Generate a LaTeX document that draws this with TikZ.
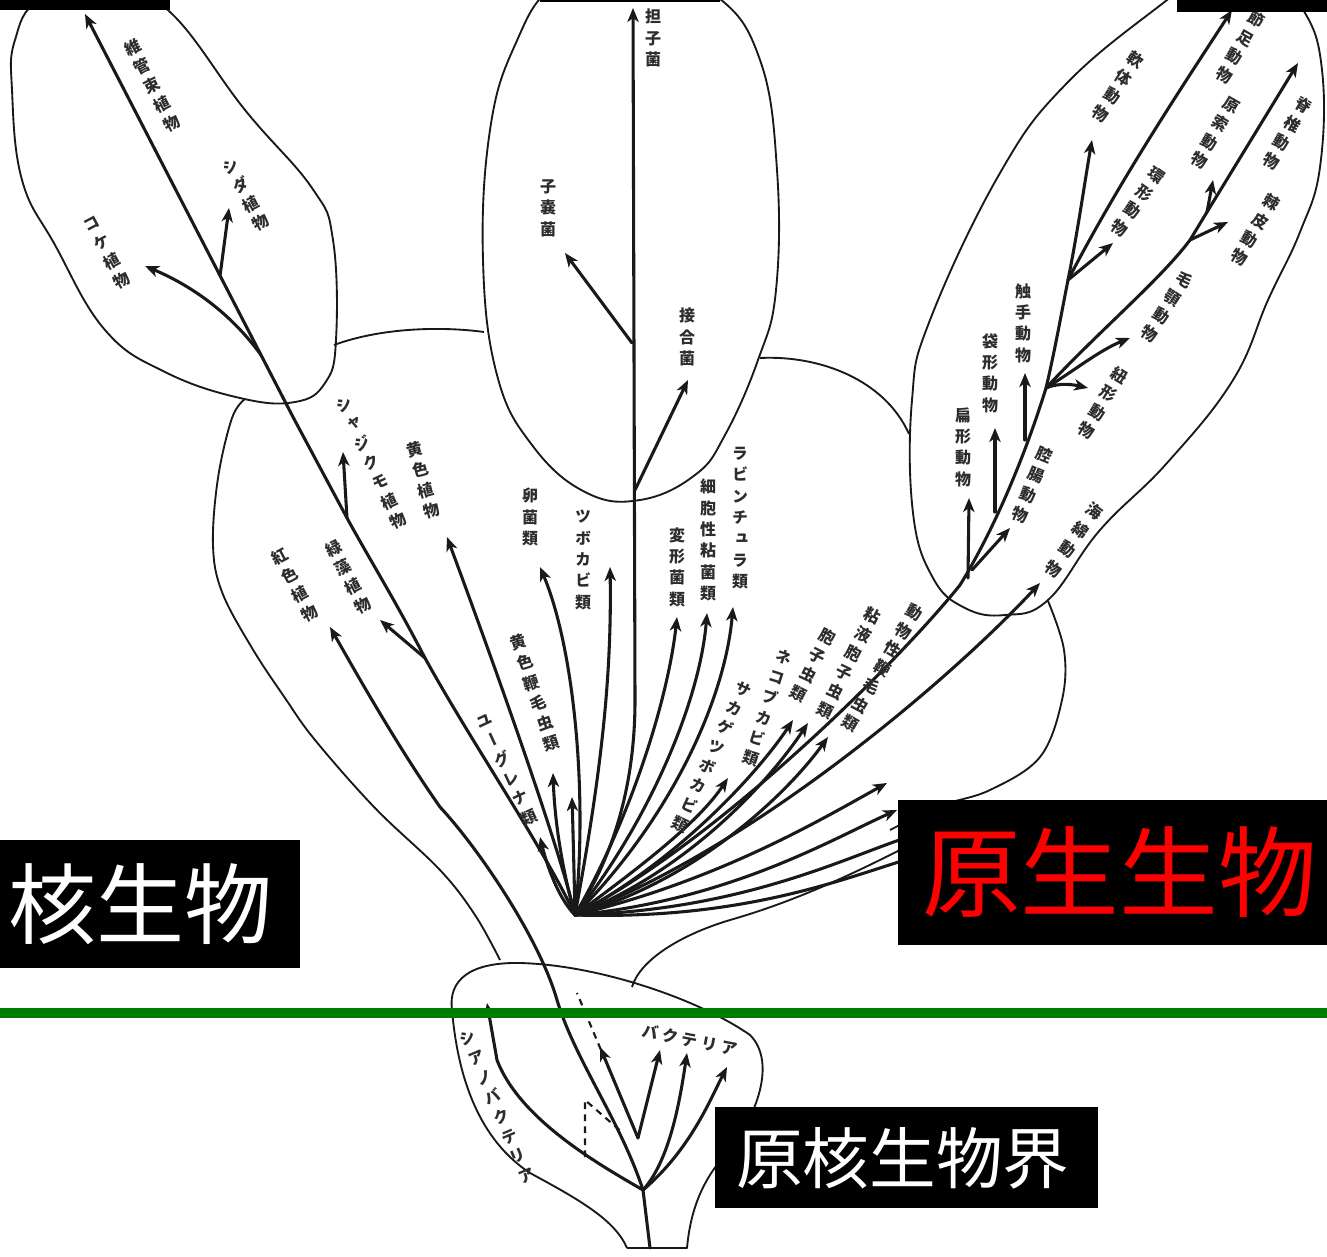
\documentclass[tikz,border=0pt]{standalone}
\usepackage{fontspec}
\newfontfamily\jp{Noto Sans CJK JP}
\newfontfamily\jpv[RawFeature=+vert]{Noto Sans CJK JP}
\usetikzlibrary{arrows.meta}
\definecolor{lgreen}{RGB}{0,125,0}
\definecolor{ink}{RGB}{25,25,25}
\definecolor{tink}{RGB}{45,45,45}
\begin{document}
\begin{tikzpicture}[x=0.75pt,y=-0.75pt,
  outl/.style={draw=ink, line width=1.4pt, line join=round},
  stem/.style={draw=ink, line width=2.3pt, line cap=round},
  arr/.style={stem, -{Stealth[length=10.5pt,width=8.5pt,inset=3pt]}},
  dsh/.style={draw=ink, line width=1.6pt, dash pattern=on 5pt off 4pt},
  vl/.style={font=\jpv\bfseries\fontsize{12}{16}\selectfont, align=center, inner sep=0pt, text=tink},
  hl/.style={font=\jp\bfseries\fontsize{12}{15}\selectfont, inner sep=0pt, text=tink},
]
\useasboundingbox (0,0) rectangle (1327,1256);
\fill[white] (0,0) rectangle (1327,1256);
\begin{scope}
\clip (0,0) rectangle (1327,1256);
% ---------- outlines ----------
% plants
\draw[outl] plot[smooth cycle, tension=0.7] coordinates {(12,90) (22,180) (55,245) (105,330) (165,372) (240,398) (295,402) (325,383) (336,340) (333,240) (312,188) (245,110) (170,12) (110,-15) (40,0) (15,40)};
% fungi
\draw[outl] plot[smooth cycle, tension=0.7] coordinates {(630,-40) (715,-5) (760,60) (777,170) (776,290) (758,360) (725,435) (695,475) (640,500) (585,492) (532,445) (497,375) (483,260) (490,130) (515,45) (555,-15)};
% animals
\draw[outl] plot[smooth cycle, tension=0.7] coordinates {(1167,0) (1067,83) (1000,173) (930,320) (912,400) (913,513) (933,578) (965,608) (1005,615) (1048,600) (1100,530) (1167,463) (1233,380) (1268,300) (1300,232) (1320,167) (1322,70) (1302,8) (1255,-40) (1210,-30)};
% protist blob
\draw[outl] plot[smooth, tension=0.6] coordinates {(245,399) (232,418) (218,478) (213,545) (222,592) (252,648) (285,698) (315,740) (375,808) (440,870) (475,915) (500,960)};
\draw[outl] (334,345) .. controls (380,328) and (440,326) .. (484,332);
\draw[outl] (760,358) .. controls (820,355) and (885,380) .. (909,434);
\draw[outl] plot[smooth, tension=0.6] coordinates {(1048,601) (1064,650) (1062,700) (1040,757) (990,790) (940,806) (890,830)};
\draw[outl] (632,987) .. controls (640,960) and (680,935) .. (730,920) .. controls (800,900) and (860,870) .. (900,850);
% bacteria pot
\draw[outl] (627,1248) -- (687,1248) .. controls (690,1215) and (700,1180) .. (730,1150) .. controls (760,1110) and (775,1060) .. (750,1035) .. controls (700,1000) and (600,965) .. (520,963) .. controls (470,962) and (448,980) .. (452,1010) .. controls (458,1080) and (480,1140) .. (530,1173) .. controls (580,1200) and (615,1220) .. (627,1248);
% ---------- coordinates ----------
\coordinate (F) at (575,915);
\coordinate (base) at (650,1248);
\coordinate (bk) at (643,1190);
\coordinate (p1) at (261,355);
\coordinate (p2) at (220,276);
\coordinate (p3) at (347,518);
\coordinate (p4) at (425,658);
\coordinate (g1) at (632,343);
\coordinate (g2) at (635,490);
\coordinate (s1) at (960,585);
\coordinate (s2) at (1046,388);
\coordinate (s3) at (1068,280);
\coordinate (v1) at (1190,240);
\coordinate (v2) at (1207,212);
\coordinate (tPlant) at (85,14);
\coordinate (tShida) at (229,208);
\coordinate (tKoke) at (145,266);
\coordinate (tShaji) at (343,452);
\coordinate (tRyoku) at (380,620);
\coordinate (tKou) at (330,627);
\coordinate (tOu) at (447,537);
\coordinate (tTan) at (633,8);
\coordinate (tShino) at (565,253);
\coordinate (tSetsu) at (688,380);
% ---------- stems ----------
\draw[arr] (base) -- (bk) .. controls (620,1120) and (575,1060) .. (557,1000) .. controls (540,940) and (480,850) .. (440,807) .. controls (400,750) and (360,680) .. (tKou);
\draw[arr] (F) .. controls (545,850) and (470,740) .. (p4) .. controls (395,600) and (370,560) .. (p3) -- (293,417) -- (tPlant);
\draw[arr] (p2) -- (tShida);
\draw[arr] (p1) .. controls (230,312) and (190,285) .. (tKoke);
\draw[arr] (p3) -- (tShaji);
\draw[arr] (p4) -- (tRyoku);
\draw[arr] (F) .. controls (560,850) and (500,680) .. (tOu);
\draw[arr] (F) .. controls (605,870) and (635,800) .. (635,700) -- (tTan);
\draw[arr] (g1) -- (tShino);
\draw[arr] (g2) -- (tSetsu);
\draw[arr] (F) .. controls (588,800) and (575,650) .. (540,567);
\draw[arr] (F) .. controls (600,780) and (612,680) .. (610,567);
\draw[arr] (F) .. controls (630,820) and (668,700) .. (677,617);
\draw[arr] (F) .. controls (650,820) and (700,700) .. (707,613);
\draw[arr] (F) .. controls (670,820) and (725,700) .. (733,607);
\draw[arr] (F) .. controls (565,880) and (555,830) .. (553,773);
\draw[arr] (F) .. controls (574,870) and (573,830) .. (572,797);
\draw[arr] (F) .. controls (560,900) and (548,870) .. (540,837);
\draw[arr] (F) .. controls (650,860) and (700,820) .. (728,778);
\draw[arr] (F) .. controls (680,860) and (760,770) .. (793,720);
\draw[arr] (F) .. controls (690,870) and (770,780) .. (808,723);
\draw[arr] (F) .. controls (700,880) and (790,790) .. (828,737);
\draw[arr] (F) .. controls (720,880) and (820,820) .. (887,783);
\draw[arr] (F) .. controls (730,900) and (830,840) .. (897,810);
\draw[stem] (F) .. controls (740,910) and (840,860) .. (905,838);
\draw[stem] (F) .. controls (740,920) and (840,880) .. (905,860);
\draw[arr] (F) .. controls (750,850) and (950,680) .. (1040,583);
\draw[arr] (F) .. controls (720,840) and (900,660) .. (s1) .. controls (1000,520) and (1030,440) .. (s2) .. controls (1055,350) and (1062,310) .. (s3) .. controls (1120,180) and (1180,90) .. (1232,10);
\draw[arr] (968,578) -- (969,498);
\draw[arr] (972,570) -- (1010,528);
\draw[arr] (995,512) -- (995,428);
\draw[arr] (1025,440) -- (1025,373);
\draw[arr] (s2) .. controls (1060,382) and (1075,385) .. (1088,388);
\draw[arr] (s2) .. controls (1075,370) and (1100,350) .. (1130,338);
\draw[arr] (s2) .. controls (1100,330) and (1160,280) .. (v1) -- (v2) -- (1298,63);
\draw[arr] (v2) -- (1213,180);
\draw[arr] (v1) -- (1228,222);
\draw[arr] (s3) .. controls (1078,230) and (1085,180) .. (1092,140);
\draw[arr] (s3) -- (1113,243);
% bacteria
\draw[arr] (bk) .. controls (600,1165) and (520,1120) .. (497,1060) -- (487,1003);
\coordinate (bn) at (638,1138);
\draw[arr] (bn) -- (600,1047);
\draw[arr] (bn) -- (660,1050);
\draw[dsh] (bn) -- (577,993);
\draw[arr] (bk) .. controls (670,1160) and (680,1100) .. (687,1053);
\draw[arr] (bk) .. controls (690,1150) and (710,1100) .. (727,1067);
\draw[dsh] (585,1157) -- (585,1100) -- (623,1133);
\end{scope}
% ---------- labels ----------
\node[vl, rotate=27] (l1) at (152,85) {維\\管\\束\\植\\物};
\node[vl, rotate=28] (l2) at (246,195) {シ\\ダ\\植\\物};
\node[vl, rotate=28] (l3) at (107,253) {コ\\ケ\\植\\物};
\node[vl, rotate=25] (l4) at (371,463) {シ\\ャ\\ジ\\ク\\モ\\植\\物};
\node[vl, rotate=15] (l5) at (423,480) {黄\\色\\植\\物};
\node[vl, rotate=27] (l6) at (348,577) {緑\\藻\\植\\物};
\node[vl, rotate=28] (l7) at (295,585) {紅\\色\\植\\物};
\node[vl] (l8) at (653,38) {担\\子\\菌};
\node[vl] (l9) at (548,208) {子\\嚢\\菌};
\node[vl] (l10) at (687,337) {接\\合\\菌};
\node[vl] (l11) at (530,517) {卵\\菌\\類};
\node[vl] (l12) at (583,560) {ツ\\ボ\\カ\\ビ\\類};
\node[vl] (l13) at (677,567) {変\\形\\菌\\類};
\node[vl] (l14) at (708,540) {細\\胞\\性\\粘\\菌\\類};
\node[vl] (l15) at (740,518) {ラ\\ビ\\ン\\チ\\ュ\\ラ\\類};
\node[vl, rotate=18] (l16) at (535,693) {黄\\色\\鞭\\毛\\虫\\類};
\node[vl, rotate=25] (l17) at (507,770) {ユ\\ー\\グ\\レ\\ナ\\類};
\node[vl, rotate=-25] (l18) at (712,757) {サ\\カ\\ゲ\\ツ\\ボ\\カ\\ビ\\類};
\node[vl, rotate=-18] (l19) at (767,708) {ネ\\コ\\ブ\\カ\\ビ\\類};
\node[vl, rotate=-27] (l20) at (813,665) {胞\\子\\虫\\類};
\node[vl, rotate=-26] (l21) at (849,663) {粘\\液\\胞\\子\\虫\\類};
\node[vl, rotate=-30] (l22) at (882,668) {動\\物\\性\\鞭\\毛\\虫\\類};
\node[vl, font=\jpv\bfseries\fontsize{12}{17.5}\selectfont, rotate=-35] (l23) at (1074,540) {海\\綿\\動\\物};
\node[vl, rotate=-22] (l24) at (1032,485) {腔\\腸\\動\\物};
\node[vl] (l25) at (963,447) {扁\\形\\動\\物};
\node[vl] (l26) at (990,373) {袋\\形\\動\\物};
\node[vl] (l27) at (1023,323) {触\\手\\動\\物};
\node[vl, rotate=-31] (l28) at (1103,403) {紐\\形\\動\\物};
\node[vl, rotate=-33] (l29) at (1167,307) {毛\\顎\\動\\物};
\node[vl, rotate=-33] (l30) at (1118,87) {軟\\体\\動\\物};
\node[vl, rotate=-35] (l31) at (1138,202) {環\\形\\動\\物};
\node[vl, rotate=-30] (l32) at (1240,47) {節\\足\\動\\物};
\node[vl, rotate=-30] (l33) at (1215,133) {原\\索\\動\\物};
\node[vl, rotate=-30] (l34) at (1287,133) {脊\\椎\\動\\物};
\node[vl, rotate=-30] (l35) at (1255,230) {棘\\皮\\動\\物};
\node[vl, rotate=23] (l36) at (497,1107) {シ\\ア\\ノ\\バ\\ク\\テ\\リ\\ア};
\node[hl, rotate=-11] (l37) at (690,1040) {バ\hspace{3pt}ク\hspace{3pt}テ\hspace{3pt}リ\hspace{3pt}ア};
% ---------- overlays ----------
\fill[lgreen] (0,1008) rectangle (1327,1018);
\fill[black] (0,0) rectangle (170,10);
\fill[black] (540,0) rectangle (720,2);
\fill[black] (1177,0) rectangle (1327,12);
\fill[black] (0,840) rectangle (300,968);
\node[font=\jp\fontsize{66}{66}\selectfont, text=white, anchor=west, inner sep=0pt] (k1) at (8,904) {核生物};
\fill[black] (898,800) rectangle (1327,945);
\node[font=\jp\fontsize{74}{74}\selectfont, text=red, anchor=west, inner sep=0pt] (k2) at (922,872) {原生生物};
\fill[black] (715,1107) rectangle (1098,1208);
\node[font=\jp\fontsize{50}{50}\selectfont, text=white, anchor=west, inner sep=0pt] (k3) at (736,1158) {原核生物界};
\end{tikzpicture}
\end{document}
